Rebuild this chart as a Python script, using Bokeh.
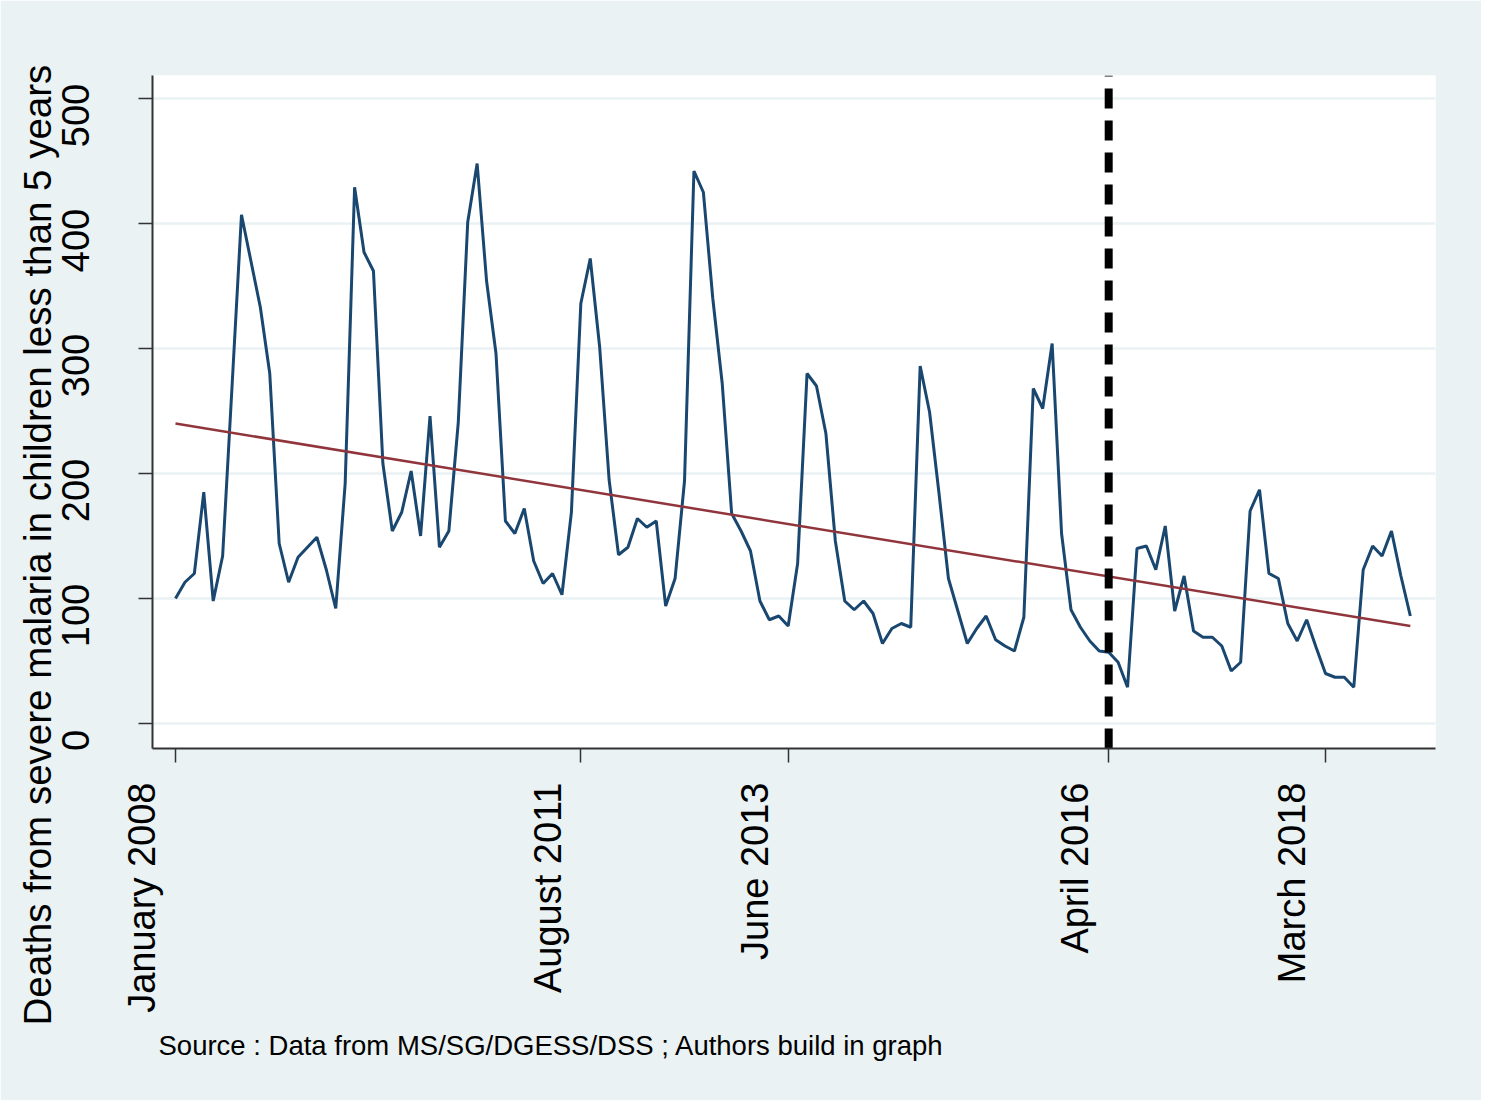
import numpy as np
import pandas as pd
from math import pi
from bokeh.plotting import figure
from bokeh.models import (Range1d, FixedTicker, CustomJSTickFormatter, ColumnDataSource,
                          LinearAxis, Title)
from bokeh.embed import file_html
from bokeh.resources import INLINE

# ---------------- data ----------------
start_month = "2008-01"
deaths = [
    100, 113, 120, 185, 98, 134, 270, 407, 370, 333, 280, 144,   # 2008
    113, 133, 141, 149, 123, 92, 192, 429, 377, 362, 208, 154,   # 2009
    169, 202, 150, 246, 141, 154, 241, 401, 448, 354, 296, 162,  # 2010
    152, 172, 130, 112, 120, 103, 169, 336, 372, 301, 195, 135,  # 2011
    141, 164, 157, 162, 94, 116, 194, 442, 425, 340, 272, 168,   # 2012
    154, 138, 98, 83, 86, 78, 128, 280, 270, 232, 146, 98,       # 2013
    91, 98, 88, 64, 76, 80, 77, 286, 249, 184, 116, 90,          # 2014
    64, 76, 86, 67, 62, 58, 85, 268, 252, 304, 152, 91,          # 2015
    77, 66, 58, 57, 49, 29, 140, 142, 123, 158, 90, 118,         # 2016
    74, 69, 69, 62, 42, 49, 170, 187, 120, 116, 80, 66,          # 2017
    83, 61, 40, 37, 37, 29, 123, 142, 134, 154, 118, 86,         # 2018
]
x_tick_labels = ["January 2008", "August 2011", "June 2013", "April 2016", "March 2018"]
y_ticks = [0, 100, 200, 300, 400, 500]
intervention_label = "April 2016"
trend_first_last = [240, 78]          # linear fit value at first and last month
y_title = "Deaths from severe malaria in children less than 5 years"
source_note = "Source : Data from MS/SG/DGESS/DSS ; Authors build in graph"

# ---------------- derived ----------------
months = pd.period_range(start_month, periods=len(deaths), freq="M")
month_names = [m.strftime("%B %Y") for m in months]
x = list(range(len(deaths)))
tick_pos = [month_names.index(t) for t in x_tick_labels]
x_int = month_names.index(intervention_label)

NAVY = "#1a476f"
MAROON = "#90353b"
BG = "#eaf2f3"
AXIS = "#333333"
FONT = "Liberation Sans"

FW, FH = 1283, 673
X0, X1 = -2.44, 133.67
Y0, Y1 = -20, 518.4
x_range = Range1d(X0, X1)
y_range = Range1d(Y0, Y1)
px_x = FW / (X1 - X0)
px_y = FH / (Y1 - Y0)
dx = 8 / px_x      # plus the half line of the 2-line box -> labels ~31px left of tick
dy = 17 / px_y     # y tick labels sit 17px below their tick

p = figure(frame_width=FW, frame_height=FH,
           min_border_left=152, min_border_right=46,
           min_border_top=75, min_border_bottom=352,
           x_range=x_range, y_range=y_range,
           output_backend="svg", toolbar_location=None)
p.extra_x_ranges = {"xlab": Range1d(X0 + dx, X1 + dx)}
p.extra_y_ranges = {"ylab": Range1d(Y0 + dy, Y1 + dy)}

p.background_fill_color = "white"
p.border_fill_color = BG
p.outline_line_color = None

# grid
p.xgrid.visible = False
p.ygrid.ticker = FixedTicker(ticks=y_ticks)
p.ygrid.grid_line_color = BG
p.ygrid.grid_line_width = 2.5

# axes carrying the line and tick marks
blank = CustomJSTickFormatter(code="return ''")
for ax, ticks in ((p.xaxis[0], tick_pos), (p.yaxis[0], y_ticks)):
    ax.ticker = FixedTicker(ticks=ticks)
    ax.formatter = blank
    ax.major_label_standoff = 0
    ax.axis_line_color = AXIS
    ax.axis_line_width = 2
    ax.major_tick_line_color = AXIS
    ax.major_tick_line_width = 1.5
    ax.major_tick_out = 14
    ax.major_tick_in = 0
    ax.minor_tick_line_color = None


def label_axis(**kw):
    ax = LinearAxis(**kw)
    ax.axis_line_color = None
    ax.major_tick_line_color = None
    ax.minor_tick_line_color = None
    ax.major_tick_out = 0
    ax.major_tick_in = 0
    ax.major_label_text_font = FONT
    ax.major_label_text_font_size = "38px"
    ax.major_label_text_color = "black"
    return ax


xlab = label_axis(x_range_name="xlab", ticker=FixedTicker(ticks=tick_pos),
                  major_label_overrides={pos: t + "\n " for pos, t in zip(tick_pos, x_tick_labels)},
                  major_label_orientation=pi / 2, major_label_standoff=20)
p.add_layout(xlab, "below")

ylab = label_axis(y_range_name="ylab", ticker=FixedTicker(ticks=y_ticks),
                  major_label_orientation="vertical", major_label_standoff=50)
p.add_layout(ylab, "left")

# data line
src = ColumnDataSource(dict(x=x, y=deaths, month=month_names))
p.line("x", "y", source=src, line_color=NAVY, line_width=3)

# linear trend
p.line([x[0], x[-1]], trend_first_last, line_color=MAROON, line_width=2.5)

# intervention line (drawn from the bottom of the frame to the top)
p.segment(x0=[x_int], y0=[Y0], x1=[x_int], y1=[Y1],
          line_color="black", line_width=8, line_dash="20 12")

# y title and source note
p.add_layout(Title(text=y_title, align="left", offset=-277, standoff=0,
                   text_font=FONT, text_font_size="38.5px", text_font_style="normal",
                   text_color="black"), "left")
p.add_layout(Title(text=source_note, align="left", offset=6, standoff=25,
                   text_font=FONT, text_font_size="27.5px", text_font_style="normal",
                   text_color="black"), "below")

open("out.html", "w").write(file_html(p, INLINE))
